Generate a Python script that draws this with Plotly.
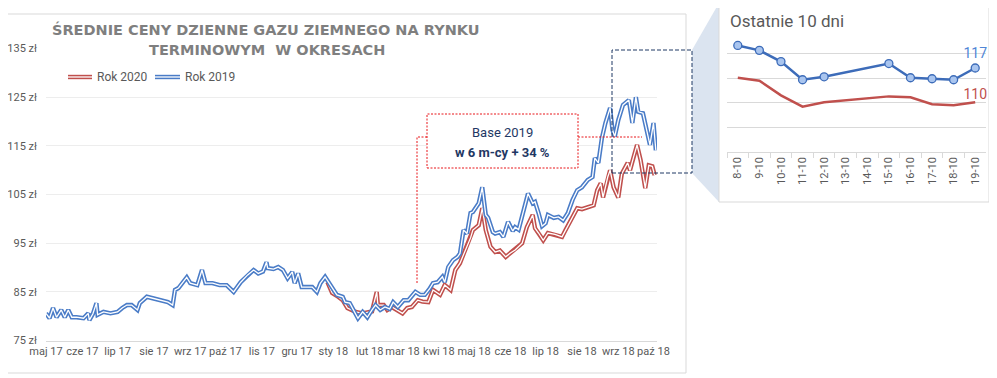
import plotly.graph_objects as go

# ---------------- data: main chart ----------------
dates_2019 = [
    "2017-05-01", "2017-05-04", "2017-05-07", "2017-05-10", "2017-05-14", "2017-05-17", "2017-05-20",
    "2017-05-23", "2017-05-27", "2017-06-02", "2017-06-06", "2017-06-07", "2017-06-10", "2017-06-13",
    "2017-06-14", "2017-06-19", "2017-06-25", "2017-07-01", "2017-07-05", "2017-07-09", "2017-07-13",
    "2017-07-18", "2017-07-20", "2017-07-26", "2017-07-31", "2017-08-06", "2017-08-13", "2017-08-17",
    "2017-08-19", "2017-08-22", "2017-08-25", "2017-08-29", "2017-09-01", "2017-09-07", "2017-09-11",
    "2017-09-14", "2017-09-20", "2017-09-26", "2017-10-02", "2017-10-08", "2017-10-14", "2017-10-20",
    "2017-10-25", "2017-10-29", "2017-11-02", "2017-11-05", "2017-11-06", "2017-11-11", "2017-11-15",
    "2017-11-19", "2017-11-23", "2017-11-27", "2017-11-29", "2017-12-02", "2017-12-05", "2017-12-10",
    "2017-12-14", "2017-12-18", "2017-12-21", "2017-12-25", "2017-12-28", "2017-12-31", "2018-01-04",
    "2018-01-09", "2018-01-11", "2018-01-15", "2018-01-20", "2018-01-22", "2018-01-26", "2018-01-30",
    "2018-02-03", "2018-02-06", "2018-02-10", "2018-02-14", "2018-02-18", "2018-02-21", "2018-02-25",
    "2018-03-02", "2018-03-06", "2018-03-12", "2018-03-16", "2018-03-20", "2018-03-24", "2018-03-27",
    "2018-03-31", "2018-04-04", "2018-04-06", "2018-04-09", "2018-04-13", "2018-04-17", "2018-04-19",
    "2018-04-22", "2018-04-25", "2018-04-28", "2018-04-30", "2018-05-05", "2018-05-08", "2018-05-11",
    "2018-05-13", "2018-05-17", "2018-05-19", "2018-05-23", "2018-05-26", "2018-05-30", "2018-06-03",
    "2018-06-05", "2018-06-08", "2018-06-12", "2018-06-16", "2018-06-20", "2018-06-22", "2018-06-25",
    "2018-06-28", "2018-07-01", "2018-07-03", "2018-07-08", "2018-07-12", "2018-07-16", "2018-07-20",
    "2018-07-24", "2018-07-28", "2018-08-01", "2018-08-06", "2018-08-10", "2018-08-12", "2018-08-15",
    "2018-08-18", "2018-08-21", "2018-08-25", "2018-08-27", "2018-08-29", "2018-09-01", "2018-09-05",
    "2018-09-10", "2018-09-13", "2018-09-16", "2018-09-18", "2018-09-22", "2018-09-26", "2018-09-28",
    "2018-10-01", "2018-10-03",
]
values_2019 = [
    80.6, 79.6, 81.7, 79.8, 81.3, 79.8, 81.3,
    79.8, 79.8, 79.6, 80.6, 79.2, 80.5, 82.7,
    80.3, 80.9, 80.6, 80.9, 81.7, 82.3, 82.3,
    81.3, 82.7, 84.0, 83.7, 83.3, 82.9, 82.3,
    85.4, 85.8, 86.8, 88.0, 86.8, 86.4, 89.5,
    86.8, 86.8, 86.4, 86.4, 85.0, 87.0, 88.5,
    89.5, 88.8, 89.2, 91.1, 89.9, 89.7, 90.1,
    89.5, 87.8, 89.1, 86.8, 88.8, 86.0, 86.0,
    86.0, 85.0, 86.8, 88.1, 87.0, 85.8, 84.4,
    84.0, 82.9, 82.7, 80.6, 79.6, 80.9, 79.8,
    81.3, 82.3, 81.3, 81.9, 81.5, 82.9, 81.9,
    83.3, 83.3, 85.0, 84.4, 84.4, 85.6, 86.8,
    87.0, 88.1, 87.0, 90.1, 91.5, 92.2, 92.9,
    97.7, 97.0, 101.2, 101.4, 103.2, 106.5, 100.8,
    100.2, 97.3, 97.0, 97.3, 96.3, 99.4, 97.5,
    98.3, 97.8, 101.4, 105.2, 103.2, 103.5, 101.2,
    98.5, 99.1, 100.8, 100.2, 100.4, 99.7, 101.2,
    103.9, 105.9, 106.5, 108.0, 108.6, 112.5, 111.5,
    116.6, 119.7, 122.8, 118.3, 116.9, 120.3, 123.4,
    124.4, 119.7, 125.0, 122.0, 121.7, 116.9, 115.2,
    119.7, 114.1,
]

dates_2020 = [
    "2017-12-27", "2017-12-31", "2018-01-04", "2018-01-09", "2018-01-13", "2018-01-15", "2018-01-20",
    "2018-01-26", "2018-01-30", "2018-02-03", "2018-02-07", "2018-02-08", "2018-02-13", "2018-02-16",
    "2018-02-20", "2018-02-24", "2018-03-01", "2018-03-05", "2018-03-09", "2018-03-14", "2018-03-18",
    "2018-03-23", "2018-03-27", "2018-04-02", "2018-04-06", "2018-04-11", "2018-04-15", "2018-04-19",
    "2018-04-23", "2018-04-28", "2018-04-30", "2018-05-05", "2018-05-08", "2018-05-11", "2018-05-15",
    "2018-05-19", "2018-05-23", "2018-05-28", "2018-06-01", "2018-06-05", "2018-06-11", "2018-06-15",
    "2018-06-20", "2018-06-22", "2018-06-25", "2018-06-29", "2018-07-03", "2018-07-09", "2018-07-15",
    "2018-07-18", "2018-07-22", "2018-07-28", "2018-08-01", "2018-08-06", "2018-08-11", "2018-08-14",
    "2018-08-17", "2018-08-19", "2018-08-23", "2018-08-25", "2018-08-28", "2018-09-01", "2018-09-04",
    "2018-09-09", "2018-09-11", "2018-09-14", "2018-09-17", "2018-09-20", "2018-09-24", "2018-09-27",
    "2018-09-30", "2018-10-02",
]
values_2020 = [
    87.0, 84.8, 84.2, 83.3, 81.7, 81.5, 80.9,
    80.6, 80.8, 81.0, 85.0, 82.3, 82.3, 81.3,
    81.9, 81.3, 80.6, 81.7, 81.9, 83.3, 83.0,
    82.9, 85.4, 84.4, 86.4, 85.4, 89.5, 90.9,
    93.2, 96.1, 97.7, 98.7, 102.2, 97.7, 94.3,
    93.2, 93.5, 92.2, 93.0, 93.6, 95.0, 98.3,
    100.8, 98.1, 97.1, 95.6, 97.1, 96.8, 96.3,
    97.7, 99.7, 102.2, 102.0, 102.4, 102.8, 105.9,
    107.3, 104.4, 108.6, 110.0, 106.5, 104.4, 109.3,
    111.5, 110.0, 112.7, 115.2, 112.1, 106.3, 111.0,
    110.8, 109.0,
]

month_ticks = [
    "2017-05-01", "2017-06-01", "2017-07-01", "2017-08-01", "2017-09-01", "2017-10-01",
    "2017-11-01", "2017-12-01", "2018-01-01", "2018-02-01", "2018-03-01", "2018-04-01",
    "2018-05-01", "2018-06-01", "2018-07-01", "2018-08-01", "2018-09-01", "2018-10-01",
]
month_labels = [
    "maj 17", "cze 17", "lip 17", "sie 17", "wrz 17", "paź 17", "lis 17", "gru 17", "sty 18",
    "lut 18", "mar 18", "kwi 18", "maj 18", "cze 18", "lip 18", "sie 18", "wrz 18", "paź 18",
]
y_ticks = [75, 85, 95, 105, 115, 125, 135]
y_labels = [f"{v} zł" for v in y_ticks]

# ---------------- data: inset (last 10 days) ----------------
inset_categories = ["8-10", "9-10", "10-10", "11-10", "12-10", "13-10", "14-10",
                    "15-10", "16-10", "17-10", "18-10", "19-10"]
inset_days = ["8-10", "9-10", "10-10", "11-10", "12-10", "15-10", "16-10", "17-10", "18-10", "19-10"]
inset_2019 = [121.7, 120.7, 118.4, 114.7, 115.3, 118.0, 115.1, 114.9, 114.7, 117.1]
inset_2020 = [115.1, 114.5, 111.5, 109.2, 110.1, 111.3, 111.1, 109.7, 109.5, 110.1]

# ---------------- colours / geometry ----------------
BLUE = "#4a7cc7"
RED = "#c0504d"
GREY_TXT = "#595959"
W, H = 997, 378
FONT = "Roboto"
OFF = 8  # page body margin of the browser


def px(x):
    return (x - OFF) / W


def py(y):
    return 1 - (y - OFF) / H


fig = go.Figure()

# main series: double ("compound") lines = thick coloured line + thin white core
for d, v, c in [(dates_2020, values_2020, RED), (dates_2019, values_2019, BLUE)]:
    fig.add_trace(go.Scatter(x=d, y=v, mode="lines", line=dict(color=c, width=4.4),
                             showlegend=False, xaxis="x", yaxis="y", hoverinfo="skip"))
    fig.add_trace(go.Scatter(x=d, y=v, mode="lines", line=dict(color="white", width=1.3),
                             showlegend=False, xaxis="x", yaxis="y", hoverinfo="skip"))

# inset series
text_2019 = [""] * (len(inset_2019) - 1) + [f"{inset_2019[-1]:.0f}"]
text_2020 = [""] * (len(inset_2020) - 1) + [f"{inset_2020[-1]:.0f}"]
fig.add_trace(go.Scatter(x=inset_days, y=inset_2020, mode="lines+text", text=text_2020,
                         textposition="top center", textfont=dict(color=RED, size=14, family=FONT),
                         line=dict(color=RED, width=2.5), showlegend=False,
                         xaxis="x2", yaxis="y2", cliponaxis=False))
fig.add_trace(go.Scatter(x=inset_days, y=inset_2019, mode="lines+markers+text", text=text_2019,
                         textposition="top center", textfont=dict(color="#4f86d6", size=14, family=FONT),
                         line=dict(color="#3d6cb9", width=2.5),
                         marker=dict(size=8, color="#a9c5ef", line=dict(color="#3d6cb9", width=1.3)),
                         showlegend=False, xaxis="x2", yaxis="y2", cliponaxis=False))

shapes = []
# outer boxes
shapes.append(dict(type="rect", xref="paper", yref="paper", x0=px(4), x1=px(686), y0=py(373), y1=py(14),
                   line=dict(color="#d9d9d9", width=1), layer="below"))
# connector trapezoid
shapes.append(dict(type="path", xref="paper", yref="paper",
                   path=f"M {px(692)},{py(50)} L {px(719)},{py(3)} L {px(719)},{py(202)} L {px(692)},{py(173)} Z",
                   fillcolor="#dbe4f0", line=dict(width=0), layer="below"))
shapes.append(dict(type="rect", xref="paper", yref="paper", x0=px(719), x1=px(989), y0=py(202), y1=py(3),
                   line=dict(color="#d9d9d9", width=1), fillcolor="white", layer="below"))
# navy dashed zoom rectangle
shapes.append(dict(type="rect", xref="paper", yref="paper", x0=px(612), x1=px(692), y0=py(173), y1=py(50),
                   line=dict(color="#1f3864", width=1, dash="4px,2px")))
# red dotted annotation box and leaders
RED_D = "#e8161b"
shapes.append(dict(type="rect", xref="paper", yref="paper", x0=px(427), x1=px(578), y0=py(168), y1=py(114),
                   line=dict(color=RED_D, width=1, dash="2px,1.5px"), fillcolor="white"))
shapes.append(dict(type="path", xref="paper", yref="paper",
                   path=f"M {px(427)},{py(137)} L {px(417)},{py(137)} L {px(417)},{py(283)}",
                   line=dict(color=RED_D, width=1, dash="2px,1.5px")))
shapes.append(dict(type="line", xref="paper", yref="paper", x0=px(578), x1=px(642), y0=py(137), y1=py(137),
                   line=dict(color=RED_D, width=1, dash="2px,1.5px")))
# manual legend (double lines)
for x0, x1, c in [(68, 92, RED), (155, 180, BLUE)]:
    shapes.append(dict(type="line", xref="paper", yref="paper", x0=px(x0), x1=px(x1), y0=py(77), y1=py(77),
                       line=dict(color=c, width=4.4)))
    shapes.append(dict(type="line", xref="paper", yref="paper", x0=px(x0), x1=px(x1), y0=py(77), y1=py(77),
                       line=dict(color="white", width=1.3)))

annotations = [
    dict(text="<b>ŚREDNIE CENY DZIENNE GAZU ZIEMNEGO NA RYNKU</b>", x=px(266), y=py(30),
         font=dict(family="DejaVu Sans", size=14.5, color="#7f7f7f")),
    dict(text="<b>TERMINOWYM  W OKRESACH</b>", x=px(267), y=py(50),
         font=dict(family="DejaVu Sans", size=14.5, color="#7f7f7f")),
    dict(text="Rok 2020", x=px(95), y=py(77), xanchor="left", font=dict(family=FONT, size=12, color=GREY_TXT)),
    dict(text="Rok 2019", x=px(183), y=py(77), xanchor="left", font=dict(family=FONT, size=12, color=GREY_TXT)),
    dict(text="Base 2019", x=px(502), y=py(132), font=dict(family=FONT, size=13, color="#1f3864")),
    dict(text="<b>w 6 m-cy + 34 %</b>", x=px(502), y=py(152), font=dict(family=FONT, size=13, color="#1f3864")),
    dict(text="Ostatnie 10 dni", x=px(728), y=py(21), xanchor="left", font=dict(family=FONT, size=17, color=GREY_TXT)),
]
for a in annotations:
    a.update(xref="paper", yref="paper", showarrow=False)
    a.setdefault("xanchor", "center")
    a["yanchor"] = "middle"

fig.update_layout(
    width=W, height=H,
    margin=dict(l=0, r=0, t=0, b=0, autoexpand=False),
    paper_bgcolor="white", plot_bgcolor="rgba(0,0,0,0)",
    showlegend=False,
    font=dict(family=FONT, size=11, color=GREY_TXT),
    shapes=shapes, annotations=annotations,
    xaxis=dict(type="date", domain=[px(46), px(657)], range=["2017-05-01", "2018-10-04"],
               tickmode="array", tickvals=month_ticks, ticktext=month_labels, tickangle=0,
               showgrid=False, zeroline=False, showline=True, linecolor="#d9d9d9", ticks="",
               tickfont=dict(size=11, color=GREY_TXT), anchor="y", automargin=False),
    yaxis=dict(domain=[py(340.6), py(48.5)], range=[75, 135], tickmode="array", tickvals=y_ticks,
               ticktext=y_labels, showgrid=True, gridcolor="#ededed", zeroline=False, showline=False,
               ticks="", ticklabelstandoff=8, tickfont=dict(size=11, color=GREY_TXT), anchor="x",
               automargin=False),
    xaxis2=dict(type="category", categoryorder="array", categoryarray=inset_categories,
                domain=[px(727), px(986)], range=[-0.5, 11.5], tickangle=-90, ticks="outside",
                tickson="boundaries", ticklen=5, tickcolor="#d9d9d9", showline=True, linecolor="#d9d9d9",
                showgrid=False, tickfont=dict(size=11, color=GREY_TXT), anchor="y2", automargin=False),
    yaxis2=dict(domain=[py(151.7), py(29.3)], range=[100, 125], dtick=5, tick0=100, showticklabels=False,
                showgrid=True, gridcolor="#d9d9d9", zeroline=False, showline=False, anchor="x2",
                automargin=False),
)

fig.write_html("out.html")
